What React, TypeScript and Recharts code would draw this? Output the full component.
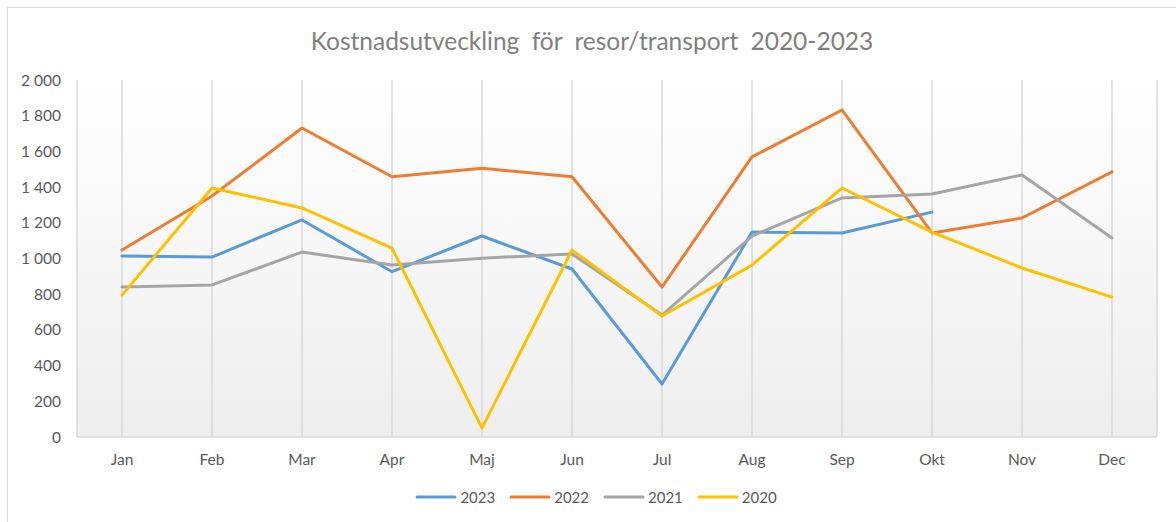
import React from 'react';
import { LineChart, Line, XAxis, YAxis, CartesianGrid, Legend } from 'recharts';

const months = ['Jan', 'Feb', 'Mar', 'Apr', 'Maj', 'Jun', 'Jul', 'Aug', 'Sep', 'Okt', 'Nov', 'Dec'];
const y2023 = [1014, 1008, 1216, 926, 1126, 941, 297, 1148, 1143, 1260, null, null];
const y2022 = [1048, 1350, 1731, 1458, 1505, 1458, 840, 1569, 1832, 1143, 1227, 1485];
const y2021 = [840, 852, 1036, 963, 1002, 1025, 683, 1126, 1339, 1361, 1468, 1115];
const y2020 = [795, 1395, 1283, 1058, 50, 1047, 678, 963, 1395, 1148, 947, 784];
const yTicks = [0, 200, 400, 600, 800, 1000, 1200, 1400, 1600, 1800, 2000];

const series = [
  { key: 'y2023', name: '2023', color: '#5B9BD5' },
  { key: 'y2022', name: '2022', color: '#ED7D31' },
  { key: 'y2021', name: '2021', color: '#A5A5A5' },
  { key: 'y2020', name: '2020', color: '#FFC000' },
];

const data = months.map((m, i) => ({
  month: m,
  y2023: y2023[i],
  y2022: y2022[i],
  y2021: y2021[i],
  y2020: y2020[i],
}));

const FONT = 'Lato, "Noto Sans", sans-serif';

const fmt = (v: number) => (v >= 1000 ? `${Math.floor(v / 1000)} ${String(v % 1000).padStart(3, '0')}` : String(v));

function LegendContent() {
  return (
    <div style={{ display: 'flex', justifyContent: 'center', fontFamily: FONT, fontSize: 15, color: '#595959' }}>
      {series.map((s) => (
        <div key={s.key} style={{ display: 'flex', alignItems: 'center', margin: '0 7px' }}>
          <svg width={42} height={6} style={{ marginRight: 3 }}>
            <line x1={2} y1={3} x2={40} y2={3} stroke={s.color} strokeWidth={3} strokeLinecap="round" />
          </svg>
          <span>{s.name}</span>
        </div>
      ))}
    </div>
  );
}

export default function App() {
  return (
    <div style={{ position: 'absolute', left: 0, top: 0, width: 1176, height: 522, background: '#fff', overflow: 'hidden' }}>
      <div
        style={{
          position: 'absolute',
          left: 7,
          top: 7,
          width: 1200,
          height: 600,
          border: '1.5px solid #d9d9d9',
        }}
      />
      <div
        style={{
          position: 'absolute',
          top: 26,
          left: 0,
          width: 1176,
          textAlign: 'center',
          fontFamily: FONT,
          fontSize: 24.5,
          color: '#7f7f7f',
          wordSpacing: 6,
          paddingLeft: 8,
          boxSizing: 'border-box',
        }}
      >
        Kostnadsutveckling för resor/transport 2020-2023
      </div>
      <LineChart width={1176} height={522} data={data} margin={{ top: 80, right: 19, bottom: 55, left: 17 }}>
        <defs>
          <linearGradient id="plotBg" x1="0" y1="0" x2="0" y2="1">
            <stop offset="0%" stopColor="#ffffff" />
            <stop offset="100%" stopColor="#eeeeee" />
          </linearGradient>
        </defs>
        <CartesianGrid horizontal={false} stroke="#d9d9d9" strokeWidth={1.5} fill="url(#plotBg)" />
        <XAxis
          dataKey="month"
          padding={{ left: 45, right: 45 }}
          axisLine={{ stroke: '#d9d9d9', strokeWidth: 1.5 }}
          tickLine={false}
          tickSize={0}
          tickMargin={17}
          tick={{ fill: '#595959', fontSize: 15.5, fontFamily: FONT }}
          interval={0}
        />
        <YAxis
          width={60}
          domain={[0, 2000]}
          ticks={yTicks}
          axisLine={false}
          tickLine={false}
          tickSize={0}
          tickMargin={16}
          tickFormatter={fmt}
          tick={{ fill: '#595959', fontSize: 15.5, fontFamily: FONT }}
          interval={0}
        />
        <Legend
          layout="horizontal"
          verticalAlign="middle"
          align="center"
          content={<LegendContent />}
          wrapperStyle={{ top: 488, left: 8, width: 1176 }}
        />
        {series.map((s) => (
          <Line
            key={s.key}
            type="linear"
            dataKey={s.key}
            name={s.name}
            stroke={s.color}
            strokeWidth={3}
            dot={false}
            activeDot={false}
            strokeLinecap="round"
            strokeLinejoin="round"
            isAnimationActive={false}
          />
        ))}
      </LineChart>
    </div>
  );
}
